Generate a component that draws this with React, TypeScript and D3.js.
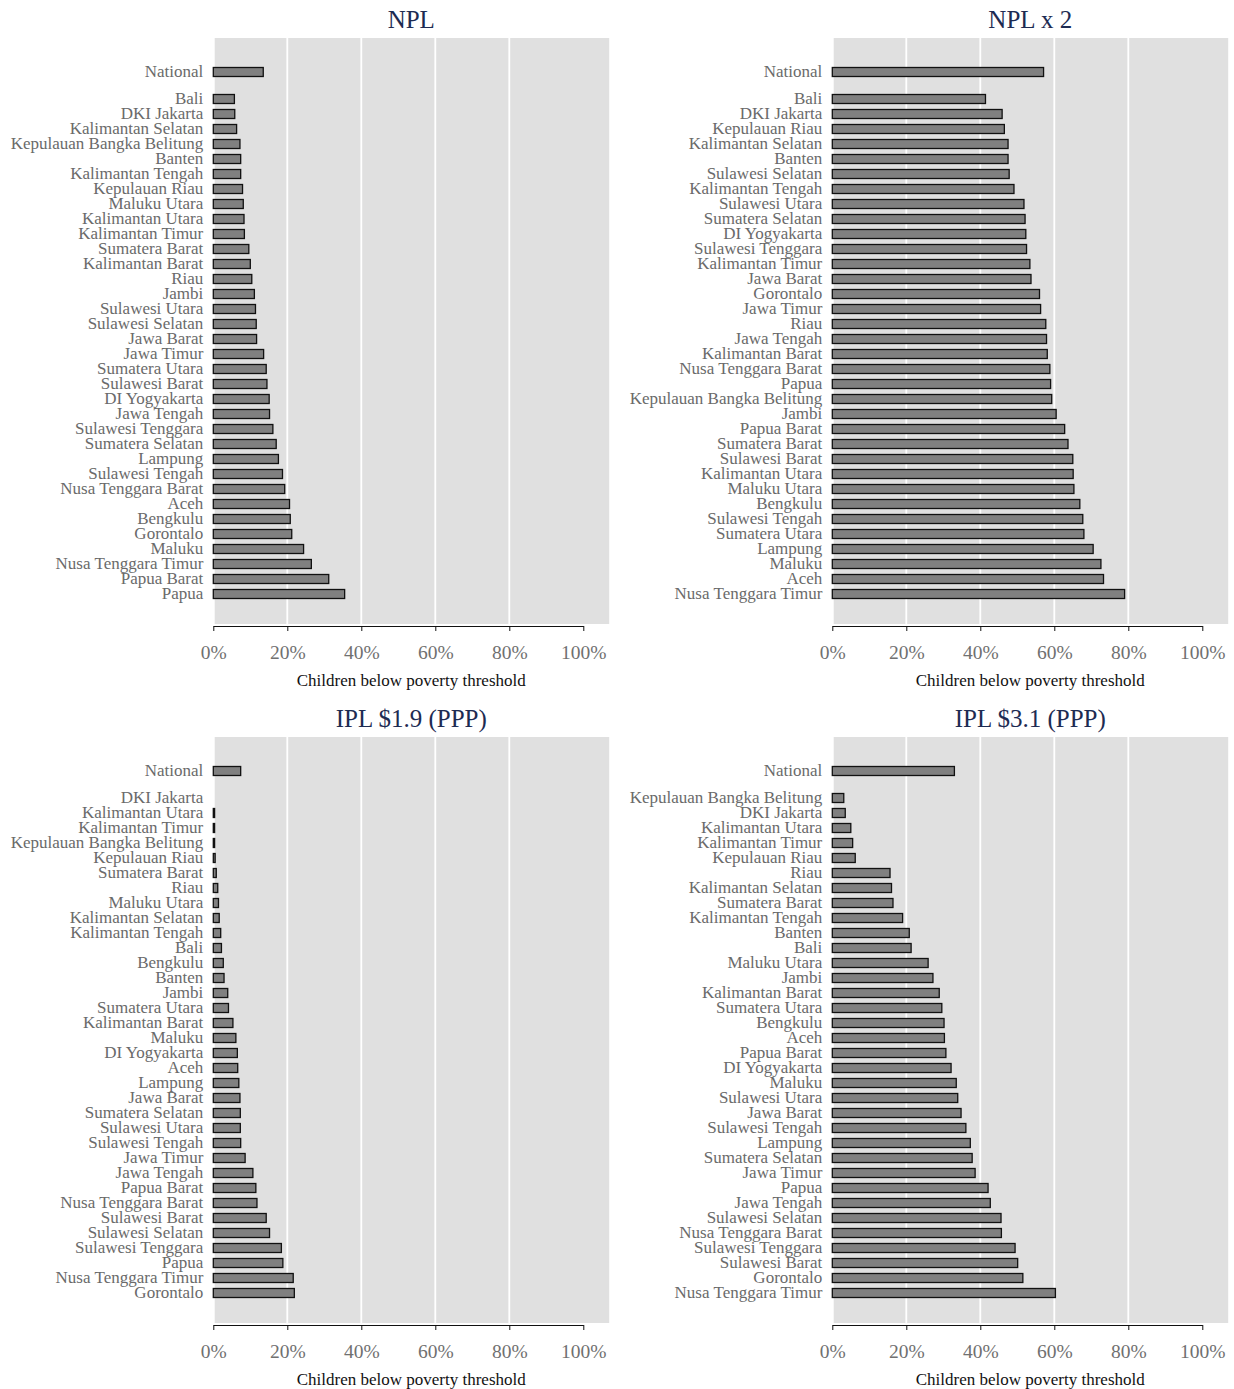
import * as d3 from 'd3';
import React, { useEffect, useRef } from 'react';

// panel 1: NPL
const nplProvinces = [
  'Bali', 'DKI Jakarta', 'Kalimantan Selatan', 'Kepulauan Bangka Belitung', 'Banten',
  'Kalimantan Tengah', 'Kepulauan Riau', 'Maluku Utara', 'Kalimantan Utara', 'Kalimantan Timur',
  'Sumatera Barat', 'Kalimantan Barat', 'Riau', 'Jambi', 'Sulawesi Utara', 'Sulawesi Selatan',
  'Jawa Barat', 'Jawa Timur', 'Sumatera Utara', 'Sulawesi Barat', 'DI Yogyakarta', 'Jawa Tengah',
  'Sulawesi Tenggara', 'Sumatera Selatan', 'Lampung', 'Sulawesi Tengah', 'Nusa Tenggara Barat',
  'Aceh', 'Bengkulu', 'Gorontalo', 'Maluku', 'Nusa Tenggara Timur', 'Papua Barat', 'Papua'
];
const nplValues = [
  5.7, 5.8, 6.3, 7.2, 7.4, 7.4, 7.9, 8.1, 8.3, 8.4, 9.6, 10.0, 10.4, 11.1, 11.4, 11.6, 11.7,
  13.6, 14.3, 14.5, 15.1, 15.2, 16.1, 17.0, 17.6, 18.7, 19.3, 20.6, 20.8, 21.2, 24.4, 26.5, 31.2, 35.5
];

// panel 2: NPL x 2
const npl2Provinces = [
  'Bali', 'DKI Jakarta', 'Kepulauan Riau', 'Kalimantan Selatan', 'Banten', 'Sulawesi Selatan',
  'Kalimantan Tengah', 'Sulawesi Utara', 'Sumatera Selatan', 'DI Yogyakarta', 'Sulawesi Tenggara',
  'Kalimantan Timur', 'Jawa Barat', 'Gorontalo', 'Jawa Timur', 'Riau', 'Jawa Tengah',
  'Kalimantan Barat', 'Nusa Tenggara Barat', 'Papua', 'Kepulauan Bangka Belitung', 'Jambi',
  'Papua Barat', 'Sumatera Barat', 'Sulawesi Barat', 'Kalimantan Utara', 'Maluku Utara',
  'Bengkulu', 'Sulawesi Tengah', 'Sumatera Utara', 'Lampung', 'Maluku', 'Aceh', 'Nusa Tenggara Timur'
];
const npl2Values = [
  41.4, 45.9, 46.5, 47.5, 47.5, 47.8, 49.1, 51.8, 52.1, 52.3, 52.5, 53.4, 53.7, 56.0, 56.3,
  57.7, 57.9, 58.1, 58.8, 59.0, 59.3, 60.5, 62.8, 63.7, 65.0, 65.1, 65.3, 66.9, 67.7, 68.0,
  70.5, 72.6, 73.3, 79.0
];

// panel 3: IPL $1.9
const ipl19Provinces = [
  'DKI Jakarta', 'Kalimantan Utara', 'Kalimantan Timur', 'Kepulauan Bangka Belitung',
  'Kepulauan Riau', 'Sumatera Barat', 'Riau', 'Maluku Utara', 'Kalimantan Selatan',
  'Kalimantan Tengah', 'Bali', 'Bengkulu', 'Banten', 'Jambi', 'Sumatera Utara', 'Kalimantan Barat',
  'Maluku', 'DI Yogyakarta', 'Aceh', 'Lampung', 'Jawa Barat', 'Sumatera Selatan', 'Sulawesi Utara',
  'Sulawesi Tengah', 'Jawa Timur', 'Jawa Tengah', 'Papua Barat', 'Nusa Tenggara Barat',
  'Sulawesi Barat', 'Sulawesi Selatan', 'Sulawesi Tenggara', 'Papua', 'Nusa Tenggara Timur', 'Gorontalo'
];
const ipl19Values = [
  0, 0.35, 0.35, 0.35, 0.5, 0.8, 1.2, 1.4, 1.6, 2.0, 2.2, 2.7, 2.9, 3.9, 4.1, 5.3, 6.1, 6.5,
  6.6, 6.9, 7.2, 7.3, 7.3, 7.4, 8.6, 10.7, 11.5, 11.8, 14.3, 15.2, 18.4, 18.8, 21.6, 21.9
];

// panel 4: IPL $3.1
const ipl31Provinces = [
  'Kepulauan Bangka Belitung', 'DKI Jakarta', 'Kalimantan Utara', 'Kalimantan Timur',
  'Kepulauan Riau', 'Riau', 'Kalimantan Selatan', 'Sumatera Barat', 'Kalimantan Tengah', 'Banten',
  'Bali', 'Maluku Utara', 'Jambi', 'Kalimantan Barat', 'Sumatera Utara', 'Bengkulu', 'Aceh',
  'Papua Barat', 'DI Yogyakarta', 'Maluku', 'Sulawesi Utara', 'Jawa Barat', 'Sulawesi Tengah',
  'Lampung', 'Sumatera Selatan', 'Jawa Timur', 'Papua', 'Jawa Tengah', 'Sulawesi Selatan',
  'Nusa Tenggara Barat', 'Sulawesi Tenggara', 'Sulawesi Barat', 'Gorontalo', 'Nusa Tenggara Timur'
];
const ipl31Values = [
  3.1, 3.5, 5.0, 5.5, 6.2, 15.6, 16.0, 16.4, 19.0, 20.8, 21.3, 25.9, 27.2, 28.9, 29.6, 30.2,
  30.3, 30.7, 32.1, 33.5, 33.9, 34.8, 36.1, 37.3, 37.8, 38.6, 42.1, 42.7, 45.6, 45.7, 49.4,
  50.1, 51.5, 60.3
];

const nationalValues = [13.5, 57.1, 7.4, 33.0];
const panelTitles = ['NPL', 'NPL x 2', 'IPL $1.9 (PPP)', 'IPL $3.1 (PPP)'];
const xTicks = [0, 20, 40, 60, 80, 100];
const gridTicks = [0, 20, 40, 60, 80];
const xLabel = 'Children below poverty threshold';

const FONT = '"Liberation Serif", "Times New Roman", serif';

const App = () => {
  const ref = useRef<SVGSVGElement>(null);

  useEffect(() => {
    const svg = d3.select(ref.current);
    svg.selectAll('*').remove();

    const panels = [
      { names: nplProvinces, values: nplValues },
      { names: npl2Provinces, values: npl2Values },
      { names: ipl19Provinces, values: ipl19Values },
      { names: ipl31Provinces, values: ipl31Values },
    ];

    panels.forEach((p, i) => {
      const col = i % 2;
      const row = Math.floor(i / 2);
      const ox = col * 619;
      const oy = row * 699;

      const g = svg.append('g').attr('transform', `translate(${ox},${oy})`);

      const x = d3.scaleLinear().domain([0, 100]).range([213.3, 583.3]);
      // provinces stacked 15px apart, national sits 1.8 rows above the first
      const y = d3.scaleLinear().domain([0, 33]).range([99, 594]);
      const yNational = y(-1.8);
      const barH = 9;

      const bgLeft = x(0);
      const bgRight = x(107);

      g.append('rect')
        .attr('x', bgLeft)
        .attr('y', 38)
        .attr('width', bgRight - bgLeft)
        .attr('height', 586)
        .attr('fill', '#e0e0e0');

      g.selectAll('line.grid')
        .data(gridTicks)
        .enter().append('line')
        .attr('class', 'grid')
        .attr('x1', d => x(d) + (d === 0 ? 0.5 : 0))
        .attr('x2', d => x(d) + (d === 0 ? 0.5 : 0))
        .attr('y1', 38)
        .attr('y2', 624)
        .attr('stroke', '#ffffff')
        .attr('stroke-width', 1.8);

      // title
      g.append('text')
        .attr('x', (bgLeft + bgRight) / 2)
        .attr('y', 28)
        .attr('text-anchor', 'middle')
        .style('font-family', FONT)
        .style('font-size', '25px')
        .attr('fill', '#1d2b52')
        .text(panelTitles[i]);

      const rows = [
        { name: 'National', value: nationalValues[i], cy: yNational },
        ...p.names.map((n, k) => ({ name: n, value: p.values[k], cy: y(k) })),
      ];

      g.selectAll('rect.bar')
        .data(rows.filter(d => d.value > 0))
        .enter().append('rect')
        .attr('class', 'bar')
        .attr('x', x(0))
        .attr('y', d => d.cy - barH / 2)
        .attr('width', d => x(d.value) - x(0))
        .attr('height', barH)
        .attr('fill', '#808080')
        .attr('stroke', '#111')
        .attr('stroke-width', 1.3);

      g.selectAll('text.cat')
        .data(rows)
        .enter().append('text')
        .attr('class', 'cat')
        .attr('x', x(0) - 10)
        .attr('y', d => d.cy)
        .attr('dy', '0.32em')
        .attr('text-anchor', 'end')
        .style('font-family', FONT)
        .style('font-size', '17px')
        .attr('fill', '#6a6a6a')
        .text(d => d.name);

      const axis = g.append('g')
        .attr('transform', 'translate(0,626)')
        .call(
          d3.axisBottom(x)
            .tickValues(xTicks)
            .tickFormat(d => `${d}%`)
            .tickSize(5)
            .tickSizeOuter(0)
            .tickPadding(14)
        );
      axis.select('.domain').attr('stroke', '#111');
      axis.selectAll('.tick line').attr('stroke', '#111');
      axis.selectAll('.tick text')
        .style('font-family', FONT)
        .style('font-size', '19.5px')
        .attr('fill', '#707070');

      g.append('text')
        .attr('x', (bgLeft + bgRight) / 2)
        .attr('y', 686)
        .attr('text-anchor', 'middle')
        .style('font-family', FONT)
        .style('font-size', '17px')
        .attr('fill', '#111')
        .text(xLabel);
    });
  }, []);

  return (
    <svg
      ref={ref}
      width={1234}
      height={1389}
      style={{ position: 'absolute', left: 0, top: 0, background: '#fff' }}
    />
  );
};

export default App;
